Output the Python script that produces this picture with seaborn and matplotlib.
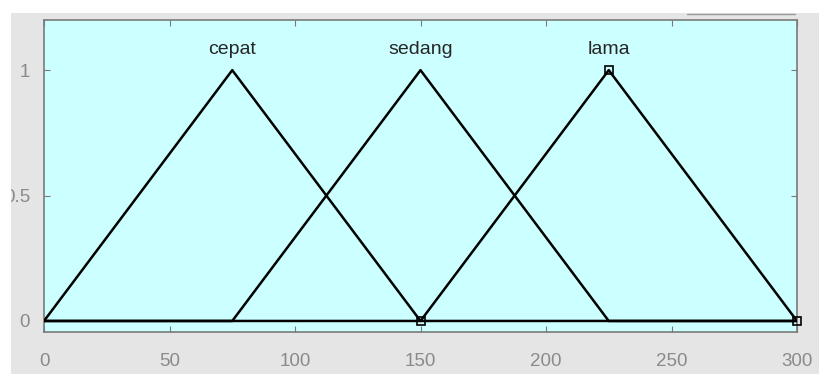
import pandas as pd
import seaborn as sns
import matplotlib.pyplot as plt
from matplotlib.patches import Rectangle

# membership functions (trimf a, b, c) on range 0..300
mf_names = ['cepat', 'sedang', 'lama']
mf_a = [0, 75, 150]
mf_b = [75, 150, 225]
mf_c = [150, 225, 300]
x_range = [0, 300]
x_ticks = [0, 50, 100, 150, 200, 250, 300]
y_ticks = [0, 0.5, 1]
y_ticklabels = ['0', '0.5', '1']
selected = 'lama'

rows = []
for name, a, b, c in zip(mf_names, mf_a, mf_b, mf_c):
    for xv, yv in zip([x_range[0], a, b, c, x_range[1]], [0, 0, 1, 0, 0]):
        rows.append({'x': xv, 'mu': yv, 'mf': name})
df = pd.DataFrame(rows)

sns.set_style('white')
plt.rcParams['font.family'] = ['Liberation Sans', 'DejaVu Sans']

fig = plt.figure(figsize=(8.19, 3.74), dpi=100, facecolor='white')
# gray figure area (the screenshot is cropped at top/left)
fig.patches.append(Rectangle((11 / 819, 0), 1, 1 - 13 / 374, transform=fig.transFigure,
                             facecolor='#e5e5e5', edgecolor='none', zorder=-10))
ax = fig.add_axes([44 / 819, 42 / 374, 753 / 819, 312 / 374])
ax.set_facecolor('#ccffff')

sns.lineplot(data=df, x='x', y='mu', hue='mf', palette=['black'] * 3, sort=False,
             estimator=None, linewidth=1.8, legend=False, ax=ax, zorder=3)

# selected mf vertices
sel = df[df['mf'] == selected].iloc[1:4]
ax.plot(sel['x'], sel['mu'], ls='none', marker='s', markersize=6, mfc='none',
        mec='black', mew=1.2, zorder=4, clip_on=False)

for name, b in zip(mf_names, mf_b):
    ax.text(b, 1.064, name, ha='center', va='baseline', fontsize=14, color='#262626')

ax.set_xlim(x_range)
ax.set_ylim(-0.044, 1.2)
ax.set_xticks(x_ticks)
ax.set_yticks(y_ticks)
ax.set_yticklabels(y_ticklabels)
ax.set_xlabel('')
ax.set_ylabel('')
ax.tick_params(direction='in', length=4, width=0.8, color='#7a7a7a', labelcolor='#8a8a8a',
               labelsize=13.5, top=True, right=True, bottom=True, left=True)
ax.tick_params(axis='x', pad=15)
ax.tick_params(axis='y', pad=10)
for s in ax.spines.values():
    s.set_color('#7a7a7a')
    s.set_linewidth(1.2)

# white strip on the left that clips the y labels
fig.patches.append(Rectangle((0, 0), 11 / 819, 1, transform=fig.transFigure,
                             facecolor='white', edgecolor='none', zorder=10))
# remnants of the cropped plot above
fig.lines.append(plt.Line2D([687 / 819, 795 / 819], [1 - 14 / 374, 1 - 14 / 374],
                            transform=fig.transFigure, color='#9a9a9a', lw=1))

fig.savefig('out.png', dpi=100, facecolor=fig.get_facecolor())
